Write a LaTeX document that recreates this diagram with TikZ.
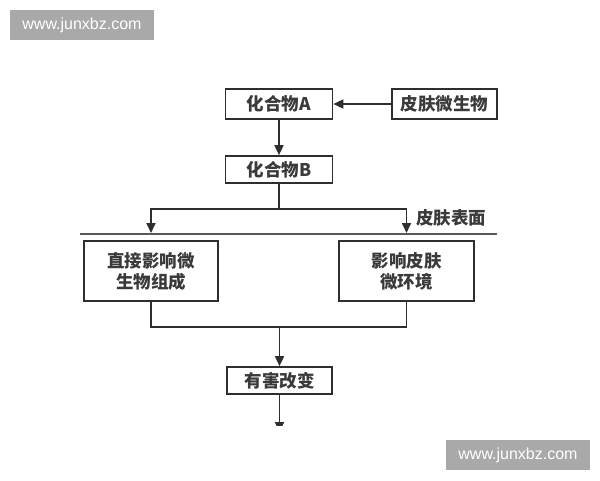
\documentclass[tikz,border=0pt]{standalone}
\usepackage{fontspec}
\setmainfont{Liberation Sans}
\newfontfamily\cjk{Noto Sans CJK SC}
\usetikzlibrary{arrows.meta}
\definecolor{ink}{HTML}{2E2E2E}
\definecolor{txt}{HTML}{3A3A3A}
\definecolor{wm}{HTML}{A9A9A9}
\tikzset{
  boxnode/.style={draw=ink, line width=1.7pt, fill=white, inner sep=0pt, align=center,
    font=\cjk\bfseries\fontsize{17.5}{21}\selectfont, text=txt},
  conn/.style={draw=ink, line width=1.7pt},
  arr/.style={conn, -{Triangle[length=10pt,width=9pt]}},
  wmark/.style={fill=wm, text=white, inner sep=0pt, minimum width=144pt, minimum height=30pt,
    font=\fontsize{16}{18}\selectfont},
}
\begin{document}
\begin{tikzpicture}[x=1pt,y=-1pt]
\useasboundingbox (0,0) rectangle (600,480);
\fill[white] (0,0) rectangle (600,480);
% watermarks
\node[wmark] (w1) at (82,25) {www.junxbz.com};
\node[wmark] (w2) at (518,455) {www.junxbz.com};
% boxes
\node[boxnode, minimum width=107pt, minimum height=30pt] (A) at (279,104) {化合物A};
\node[boxnode, minimum width=105pt, minimum height=30pt] (M) at (444.5,104) {皮肤微生物};
\node[boxnode, minimum width=107pt, minimum height=27pt] (B) at (279,169.5) {化合物B};
\node[boxnode, minimum width=134pt, minimum height=60pt] (L) at (151,271) {直接影响微\\生物组成};
\node[boxnode, minimum width=135pt, minimum height=60pt] (R) at (406.5,271) {影响皮肤\\微环境};
\node[boxnode, minimum width=105pt, minimum height=27pt] (H) at (279.5,380.5) {有害改变};
% surface line and label
\coordinate (s1) at (80,234);
\coordinate (s2) at (497,234);
\draw[draw=ink!80, line width=2.6pt] (s1) -- (s2);
\node[font=\cjk\bfseries\fontsize{17.5}{21}\selectfont, text=txt, anchor=west, inner sep=0pt] (lab) at (416,218) {皮肤表面};
% connectors
\draw[arr] (M.west) -- (A.east);
\draw[arr] (A.south) -- (B.north);
\coordinate (bj) at (279,209);
\coordinate (bl) at (151,209);
\coordinate (br) at (406.5,209);
\coordinate (tl) at (151,233);
\coordinate (tr) at (406.5,233);
\draw[conn] (B.south) -- (bj);
\draw[arr] (bj) -- (bl) -- (tl);
\draw[arr] (bj) -- (br) -- (tr);
\coordinate (jl) at (151,327);
\coordinate (jr) at (406.5,327);
\coordinate (jm) at (279.5,327);
\draw[conn] (L.south) -- (jl) -- (jr) -- (R.south);
\draw[arr] (jm) -- (H.north);
\begin{scope}
\clip (0,0) rectangle (600,425);
\coordinate (end) at (279.5,432);
\draw[arr] (H.south) -- (end);
\end{scope}
\end{tikzpicture}
\end{document}
